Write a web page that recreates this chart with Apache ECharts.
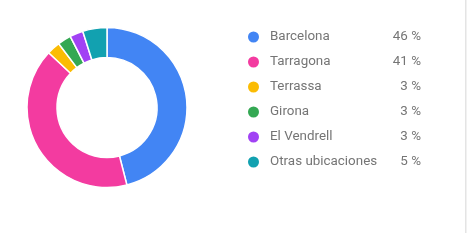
<!DOCTYPE html>
<html>
<head>
<meta charset="utf-8">
<script src="https://cdn.jsdelivr.net/npm/echarts@6/dist/echarts.min.js"></script>
<style>
html,body{margin:0;padding:0;background:#fff;}
#c{width:467px;height:248px;}
</style>
</head>
<body>
<div id="c"></div>
<script>
const categories = ['Barcelona', 'Tarragona', 'Terrassa', 'Girona', 'El Vendrell', 'Otras ubicaciones'];
const values = [46, 41, 2.7, 2.7, 2.7, 4.9];
const percentLabels = ['46 %', '41 %', '3 %', '3 %', '3 %', '5 %'];
const colors = ['#4285F4', '#F33BA0', '#FBBC04', '#34A853', '#A142F4', '#12A1B0'];

const chart = echarts.init(document.getElementById('c'), null, {renderer: 'canvas'});
const pctMap = {};
categories.forEach((c, i) => pctMap[c] = percentLabels[i]);

chart.setOption({
  animation: false,
  color: colors,
  legend: {
    orient: 'vertical',
    left: 246,
    top: 29.5,
    padding: 0,
    icon: 'circle',
    itemWidth: 13,
    itemHeight: 13,
    itemGap: 10,
    selectedMode: false,
    data: categories,
    formatter: name => '{n|' + name + '}{p|' + pctMap[name] + '}',
    textStyle: {
      fontFamily: 'Roboto',
      fontSize: 13.4,
      lineHeight: 13,
      color: '#757575',
      rich: {
        n: {fontFamily: 'Roboto', fontSize: 13.4, lineHeight: 13, color: '#757575', width: 119, padding: [0, 0, 0, 5]},
        p: {fontFamily: 'Roboto', fontSize: 13.4, lineHeight: 13, color: '#757575', width: 32, align: 'right'}
      }
    }
  },
  graphic: [{
    type: 'rect',
    shape: {x: 465, y: 0, width: 1.5, height: 233},
    style: {fill: '#e4e4e4'}
  }],
  series: [{
    type: 'pie',
    center: [107, 107.5],
    radius: [50, 80],
    startAngle: 90,
    clockwise: true,
    label: {show: false},
    labelLine: {show: false},
    emphasis: {disabled: true},
    itemStyle: {borderColor: '#fff', borderWidth: 1.5},
    data: categories.map((c, i) => ({name: c, value: values[i]}))
  }]
});
</script>
</body>
</html>
